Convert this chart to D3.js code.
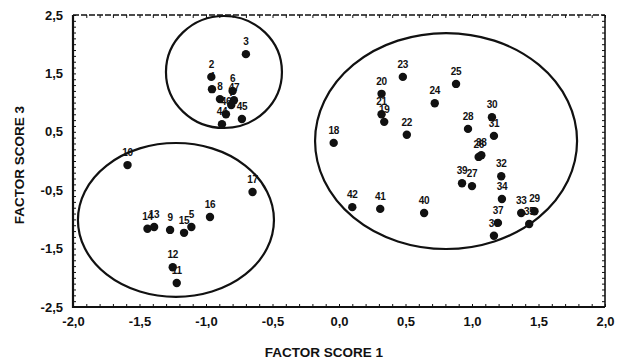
<!DOCTYPE html>
<html>
<head>
<meta charset="utf-8">
<script src="https://cdn.jsdelivr.net/npm/d3@7"></script>
<style>
  html, body { margin: 0; padding: 0; background: #fff; }
  svg { display: block; font-family: "Liberation Sans", Arial, sans-serif; }
</style>
</head>
<body>
<svg id="chart" width="621" height="359"></svg>
<script>
// ---- data ----
const pointIds = [
  "3","2","4","8","6","47","7","46","45","44",
  "10","17","16","14","13","9","15","5","12","11",
  "23","25","20","24","21","19","22","18","28","30","31","26","38","32","39","27","34","37","36","33","29","35","42","41","40"
];
const factorScore1 = [
  -0.70,-0.96,-0.955,-0.895,-0.80,-0.79,-0.81,-0.85,-0.73,-0.88,
  -1.59,-0.65,-0.97,-1.44,-1.39,-1.27,-1.165,-1.11,-1.25,-1.22,
  0.48,0.88,0.32,0.72,0.32,0.34,0.51,-0.04,0.97,1.15,1.165,1.05,1.07,1.22,0.925,1.00,1.225,1.195,1.165,1.37,1.47,1.43,0.10,0.31,0.64
];
const factorScore3 = [
  1.83,1.44,1.23,1.06,1.20,1.04,0.96,0.80,0.72,0.63,
  -0.07,-0.53,-0.96,-1.16,-1.13,-1.18,-1.23,-1.13,-1.82,-2.09,
  1.44,1.32,1.15,0.99,0.80,0.67,0.45,0.31,0.55,0.75,0.43,0.07,0.10,-0.26,-0.38,-0.43,-0.65,-1.06,-1.28,-0.89,-0.86,-1.08,-0.79,-0.82,-0.89
];
// cluster ellipses: centre (factor 1, factor 3) and radii in axis units
const clusterCx = [-0.865, -1.226, 0.805];
const clusterCy = [1.524, -1.010, 0.342];
const clusterRx = [0.436, 0.737, 0.985];
const clusterRy = [0.959, 1.318, 1.849];
const xTicks = [-2.0,-1.5,-1.0,-0.5,0.0,0.5,1.0,1.5,2.0];
const yTicks = [2.5,1.5,0.5,-0.5,-1.5,-2.5];
const xTitle = "FACTOR SCORE 1";
const yTitle = "FACTOR SCORE 3";

// ---- layout ----
const svg = d3.select("#chart");
const pL = 73, pR = 605, pT = 15, pB = 307;
const x = d3.scaleLinear().domain([-2, 2]).range([pL, pR]);
const y = d3.scaleLinear().domain([-2.5, 2.5]).range([pB, pT]);
const fmt = d => d3.format(".1f")(d).replace(".", ",").replace("−", "-");

// minor ticks
const minorX = d3.range(-20, 21).map(i => i / 10);
const minorY = d3.range(-25, 26).map(i => i / 10);
function minor(g) { g.select(".domain").remove(); g.selectAll("line").attr("stroke", "#111").attr("stroke-width", 1); }
svg.append("g").attr("transform", `translate(0,${pB})`)
  .call(d3.axisBottom(x).tickValues(minorX).tickSize(-3).tickFormat("")).call(minor);
svg.append("g").attr("transform", `translate(0,${pT})`)
  .call(d3.axisTop(x).tickValues(minorX).tickSize(-3).tickFormat("")).call(minor);
svg.append("g").attr("transform", `translate(${pL},0)`)
  .call(d3.axisLeft(y).tickValues(minorY).tickSize(-3).tickFormat("")).call(minor);
svg.append("g").attr("transform", `translate(${pR},0)`)
  .call(d3.axisRight(y).tickValues(minorY).tickSize(-3).tickFormat("")).call(minor);

// frame
svg.append("path")
  .attr("d", `M${pL},${pT}H${pR}`).attr("stroke", "#111").attr("stroke-width", 1.6).attr("stroke-dasharray", "6,2").attr("fill", "none");
svg.append("path")
  .attr("d", `M${pR},${pT}V${pB}`).attr("stroke", "#111").attr("stroke-width", 1.6).attr("fill", "none");
svg.append("path")
  .attr("d", `M${pL},${pT}V${pB}H${pR}`).attr("stroke", "#111").attr("stroke-width", 2.2).attr("fill", "none");

// tick labels
const xAxis = svg.append("g").attr("transform", `translate(0,${pB})`)
  .call(d3.axisBottom(x).tickValues(xTicks).tickSize(0).tickPadding(10).tickFormat(fmt));
xAxis.select(".domain").remove();
xAxis.selectAll("text").attr("font-size", 13).attr("font-weight", "bold").attr("fill", "#111")
  .attr("font-family", "'Liberation Sans', Arial, sans-serif");
const yAxis = svg.append("g").attr("transform", `translate(${pL},0)`)
  .call(d3.axisLeft(y).tickValues(yTicks).tickSize(0).tickPadding(10).tickFormat(fmt));
yAxis.select(".domain").remove();
yAxis.selectAll("text").attr("font-size", 13).attr("font-weight", "bold").attr("fill", "#111")
  .attr("font-family", "'Liberation Sans', Arial, sans-serif");

// axis titles
svg.append("text").attr("x", 324).attr("y", 357)
  .attr("text-anchor", "middle").attr("font-size", 13.5).attr("font-weight", "bold").attr("fill", "#111")
  .text(xTitle);
svg.append("text").attr("transform", `translate(24,165) rotate(-90)`)
  .attr("text-anchor", "middle").attr("font-size", 13.5).attr("font-weight", "bold").attr("fill", "#111")
  .text(yTitle);

// cluster ellipses
svg.append("g").selectAll("ellipse").data(clusterCx).join("ellipse")
  .attr("cx", (d, i) => x(clusterCx[i]))
  .attr("cy", (d, i) => y(clusterCy[i]))
  .attr("rx", (d, i) => x(clusterRx[i]) - x(0))
  .attr("ry", (d, i) => y(0) - y(clusterRy[i]))
  .attr("fill", "none").attr("stroke", "#111").attr("stroke-width", 2.2);

// points
const pts = pointIds.map((id, i) => ({ id, f1: factorScore1[i], f3: factorScore3[i] }));
svg.append("g").selectAll("circle").data(pts).join("circle")
  .attr("cx", d => x(d.f1)).attr("cy", d => y(d.f3)).attr("r", 4.2).attr("fill", "#111");
svg.append("g").selectAll("text").data(pts).join("text")
  .attr("x", d => x(d.f1)).attr("y", d => y(d.f3) - 9)
  .attr("text-anchor", "middle").attr("font-size", 10).attr("font-weight", "bold")
  .attr("letter-spacing", -0.3).attr("fill", "#111")
  .text(d => d.id);
</script>
</body>
</html>
